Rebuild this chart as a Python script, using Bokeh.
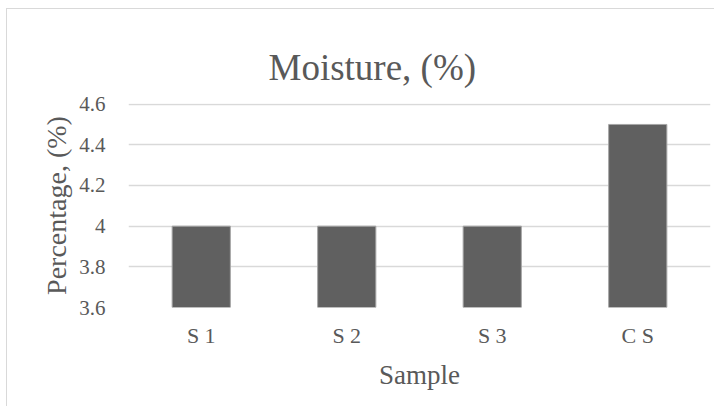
from bokeh.plotting import figure
from bokeh.models import Range1d, Title, ColumnDataSource
from bokeh.embed import file_html
from bokeh.resources import INLINE

categories = ["S 1", "S 2", "S 3", "C S"]
moisture = [4.0, 4.0, 4.0, 4.5]
y_min, y_max = 3.6, 4.6
y_ticks = [3.6, 3.8, 4.0, 4.2, 4.4, 4.6]
y_tick_labels = {3.6: "3.6", 3.8: "3.8", 4.0: "4", 4.2: "4.2", 4.4: "4.4", 4.6: "4.6"}

FONT = "Liberation Serif"
TXT = "#595959"

src = ColumnDataSource(dict(cat=categories, val=moisture, base=[y_min] * len(categories)))

p = figure(x_range=categories, y_range=Range1d(y_min, y_max + 0.003),
           width=708, height=398, output_backend="svg", toolbar_location=None,
           min_border_left=121, min_border_right=5, min_border_top=94, min_border_bottom=100,
           margin=(8, 0, 0, 6))
p.styles = {"border-left": "1.5px solid #d9d9d9", "border-top": "1.5px solid #d9d9d9"}

p.vbar(x="cat", top="val", bottom="base", width=0.4, source=src,
       fill_color="#606060", line_color="#a6a6a6", line_width=1)

t = Title(text="Moisture, (%)", align="left", offset=140, text_font=FONT,
          text_font_size="37px", text_color=TXT, text_font_style="normal", standoff=32)
p.add_layout(t, "above")

p.outline_line_color = None
p.background_fill_color = "white"
p.border_fill_color = "white"
p.xgrid.grid_line_color = None
p.ygrid.grid_line_color = "#d9d9d9"
p.ygrid.grid_line_width = 1.5
p.ygrid.ticker = y_ticks

p.yaxis.ticker = y_ticks
p.yaxis.major_label_overrides = y_tick_labels
p.yaxis.axis_line_color = None
p.yaxis.major_tick_line_color = None
p.yaxis.minor_tick_line_color = None
p.yaxis.major_label_standoff = 17
p.yaxis.major_label_text_font = FONT
p.yaxis.major_label_text_font_size = "21px"
p.yaxis.major_label_text_color = TXT
p.yaxis.axis_label = "Percentage, (%)"
p.yaxis.axis_label_text_font = FONT
p.yaxis.axis_label_text_font_size = "28px"
p.yaxis.axis_label_text_font_style = "normal"
p.yaxis.axis_label_text_color = TXT
p.yaxis.axis_label_standoff = 4

p.xaxis.axis_line_color = None
p.xaxis.major_tick_line_color = None
p.xaxis.major_label_standoff = 9
p.xaxis.major_label_text_font = FONT
p.xaxis.major_label_text_font_size = "22px"
p.xaxis.major_label_text_color = TXT
p.xaxis.axis_label = "Sample"
p.xaxis.axis_label_text_font = FONT
p.xaxis.axis_label_text_font_size = "27px"
p.xaxis.axis_label_text_font_style = "normal"
p.xaxis.axis_label_text_color = TXT
p.xaxis.axis_label_standoff = 9

open("out.html", "w").write(file_html(p, INLINE))
